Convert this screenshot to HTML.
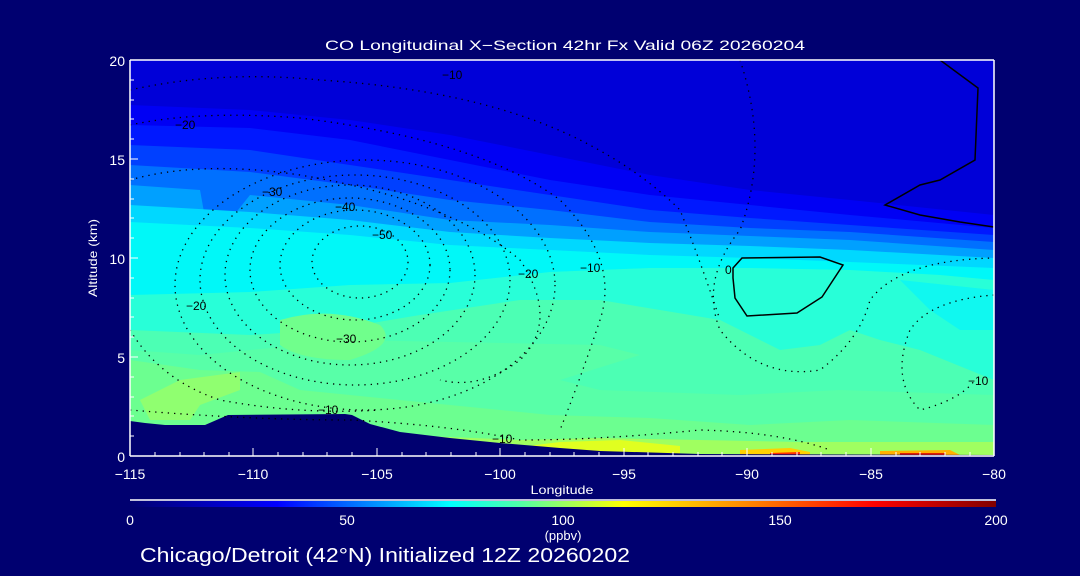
<!DOCTYPE html>
<html><head><style>
body{margin:0;background:#000070;}
svg{display:block;font-family:"Liberation Sans",sans-serif;}
</style></head><body>
<svg width="1080" height="576" viewBox="0 0 1080 576" xmlns="http://www.w3.org/2000/svg">
<defs>
<clipPath id="pc"><rect x="130" y="60" width="864" height="396"/></clipPath>
<linearGradient id="cb" x1="0" x2="1" y1="0" y2="0">
<stop offset="0" stop-color="#000070"/>
<stop offset="0.17" stop-color="#0000ff"/>
<stop offset="0.37" stop-color="#00ffff"/>
<stop offset="0.45" stop-color="#50ffa8"/>
<stop offset="0.57" stop-color="#ffff00"/>
<stop offset="0.72" stop-color="#ff8000"/>
<stop offset="0.86" stop-color="#ff0000"/>
<stop offset="1" stop-color="#800000"/>
</linearGradient>
</defs>
<rect width="1080" height="576" fill="#000070"/>
<g clip-path="url(#pc)">
<rect x="130" y="60" width="864" height="396" fill="#0000d8"/>
<path d="M130,105 L250,110 350,120 450,135 550,155 650,175 750,190 850,200 994,215 V460 H130Z" fill="#0000f4"/>
<path d="M130,125 L250,128 350,140 450,160 550,180 650,195 750,205 850,215 994,228 V460 H130Z" fill="#0018ff"/>
<path d="M130,145 L250,150 350,165 450,180 550,195 650,210 750,218 850,225 994,235 V460 H130Z" fill="#0040ff"/>
<path d="M130,165 L250,172 350,185 450,200 550,210 650,222 750,228 850,232 994,242 V460 H130Z" fill="#0070ff"/>
<path d="M130,185 L200,190 210,245 250,195 350,205 450,220 550,225 650,232 750,236 850,240 994,250 V460 H130Z" fill="#00a0ff"/>
<path d="M130,205 L250,212 350,220 450,232 550,238 650,243 750,246 850,250 994,258 V460 H130Z" fill="#00d8ff"/>
<path d="M130,222 L250,228 350,235 450,245 550,250 650,255 750,258 850,262 994,268 V460 H130Z" fill="#00f8f8"/>
<path d="M130,295 L250,292 350,285 450,283 550,272 650,268 750,268 850,270 940,275 994,280 V460 H130Z" fill="#28ffd8"/>
<path d="M900,280 L994,290 994,330 960,330 930,310Z" fill="#10f8f0"/>
<path d="M130,330 L250,335 330,330 420,315 520,300 600,300 660,310 720,320 760,340 780,350 820,345 850,330 880,340 920,350 994,380 V460 H130Z" fill="#4cffb4"/>
<path d="M130,350 L200,355 300,345 350,340 600,345 640,355 560,380 600,390 740,395 840,390 994,395 V460 H130Z" fill="#58ffa8"/>
<path d="M280,320 Q330,305 380,325 Q400,345 350,360 Q300,360 280,345Z" fill="#70ff8c"/>
<path d="M130,360 L200,370 260,372 300,390 350,395 450,405 550,415 650,418 750,425 850,420 994,425 V460 H130Z" fill="#6cff90"/>
<path d="M140,400 L180,380 240,372 240,390 200,405 190,420 150,420Z" fill="#90ff70"/>
<path d="M130,440 L400,435 520,440 600,438 700,440 800,442 900,442 994,442 V460 H130Z" fill="#a0ff60"/>
<path d="M520,447 L560,442 620,440 680,446 680,456 520,456Z" fill="#e0ff20"/>
<path d="M740,450 L790,448 810,452 810,456 740,456Z" fill="#ffd000"/>
<path d="M770,453 L800,452 800,456 770,456Z" fill="#ff3000"/>
<path d="M880,451 L950,450 960,455 880,456Z" fill="#ffb000"/>
<path d="M900,453 L945,453 945,456 900,456Z" fill="#e02000"/>
<path d="M130,421 L145,423 165,425 205,425 228,415 345,414 352,415 370,424 400,432 450,438 500,443 560,448 600,451 700,454 994,455 V460 H130Z" fill="#000070"/>
<g fill="none" stroke="#000" stroke-width="1.3" stroke-dasharray="1.3 5">
<ellipse cx="360" cy="262" rx="48" ry="36"/>
<ellipse cx="355" cy="265" rx="75" ry="55"/>
<ellipse cx="350" cy="270" rx="100" ry="72"/>
<ellipse cx="350" cy="275" rx="125" ry="90"/>
<ellipse cx="355" cy="280" rx="155" ry="105"/>
<ellipse cx="365" cy="285" rx="190" ry="125"/>
<path d="M130,180 Q200,160 300,175 Q450,200 520,260 Q560,320 520,360 Q480,390 440,380"/>
<path d="M130,125 Q200,110 300,118 Q480,140 560,200 Q620,260 600,320 Q580,380 560,430"/>
<path d="M130,90 Q220,70 320,80 Q480,90 580,140 Q640,170 680,210 Q700,260 720,320"/>
<path d="M740,60 Q770,150 740,230 Q700,280 720,330 Q760,380 820,370 Q860,340 870,300 Q900,260 994,258"/>
<path d="M994,295 Q930,300 910,330 Q890,380 920,410 Q960,400 975,380"/>
<path d="M130,410 Q250,420 350,420 Q450,425 520,440 Q600,440 700,430 Q780,432 830,450"/>
<path d="M130,330 Q160,380 220,400 Q300,415 380,410"/>
</g>
<g fill="none" stroke="#000" stroke-width="1.5">
<path d="M733,268 L742,258 820,257 843,265 822,297 797,313 747,316 735,298 733,278Z"/>
<path d="M940,60 L978,88 975,160 940,180 920,185 885,205 920,215 960,222 994,227"/>
</g>
<g font-size="12" fill="#000" stroke="none">
<text x="175" y="129">−20</text>
<text x="262" y="196">−30</text>
<text x="335" y="211">−40</text>
<text x="372" y="239">−50</text>
<text x="336" y="343">−30</text>
<text x="318" y="414">−10</text>
<text x="186" y="310">−20</text>
<text x="518" y="278">−20</text>
<text x="580" y="272">−10</text>
<text x="492" y="443">−10</text>
<text x="725" y="274">0</text>
<text x="442" y="79">−10</text>
<text x="968" y="385">−10</text>
</g>
</g>
<g stroke="#fff" stroke-width="1.5" fill="none">
<line x1="130" y1="60" x2="994" y2="60"/>
<line x1="130" y1="60" x2="130" y2="456"/>
<line x1="130" y1="456" x2="994" y2="456"/>
<line x1="994" y1="60" x2="994" y2="456"/>
</g>
<g stroke="#fff" stroke-width="1">
<path d="M130,456v-8M253,456v-8M377,456v-8M500,456v-8M624,456v-8M747,456v-8M871,456v-8M994,456v-8"/>
<path d="M155,456v-4M180,456v-4M204,456v-4M229,456v-4M278,456v-4M303,456v-4M327,456v-4M352,456v-4M402,456v-4M426,456v-4M451,456v-4M476,456v-4M525,456v-4M550,456v-4M574,456v-4M599,456v-4M648,456v-4M673,456v-4M698,456v-4M722,456v-4M772,456v-4M797,456v-4M821,456v-4M846,456v-4M896,456v-4M920,456v-4M945,456v-4M970,456v-4"/>
<path d="M130,60h8M130,159h8M130,258h8M130,357h8M130,456h8"/>
<path d="M130,80h4M130,100h4M130,119h4M130,139h4M130,179h4M130,199h4M130,218h4M130,238h4M130,278h4M130,298h4M130,317h4M130,337h4M130,377h4M130,397h4M130,416h4M130,436h4"/>
</g>
<g fill="#fff" font-size="14" text-anchor="middle">
<text x="565" y="50" textLength="480" lengthAdjust="spacingAndGlyphs">CO Longitudinal X−Section 42hr  Fx Valid 06Z 20260204</text>
<text x="130" y="479">−115</text><text x="253" y="479">−110</text><text x="377" y="479">−105</text>
<text x="500" y="479">−100</text><text x="624" y="479">−95</text><text x="747" y="479">−90</text>
<text x="871" y="479">−85</text><text x="994" y="479">−80</text>
<text x="562" y="494" font-size="12" textLength="63" lengthAdjust="spacingAndGlyphs">Longitude</text>
<text x="97" y="258" font-size="12" transform="rotate(-90 97 258)" textLength="78" lengthAdjust="spacingAndGlyphs">Altitude (km)</text>
</g>
<g fill="#fff" font-size="14" text-anchor="end">
<text x="125" y="66">20</text><text x="125" y="165">15</text><text x="125" y="264">10</text>
<text x="125" y="363">5</text><text x="125" y="462">0</text>
</g>
<line x1="130" y1="500" x2="996" y2="500" stroke="#fff" stroke-width="1.5"/>
<rect x="130" y="501" width="866" height="6" fill="url(#cb)"/>
<g fill="#fff" font-size="14" text-anchor="middle">
<text x="130" y="525">0</text><text x="347" y="525">50</text><text x="563" y="525">100</text>
<text x="780" y="525">150</text><text x="996" y="525">200</text>
<text x="563" y="540" font-size="13">(ppbv)</text>
</g>
<text x="140" y="562" fill="#fff" font-size="20" textLength="490" lengthAdjust="spacingAndGlyphs">Chicago/Detroit (42°N) Initialized 12Z 20260202</text>
</svg>
</body></html>
